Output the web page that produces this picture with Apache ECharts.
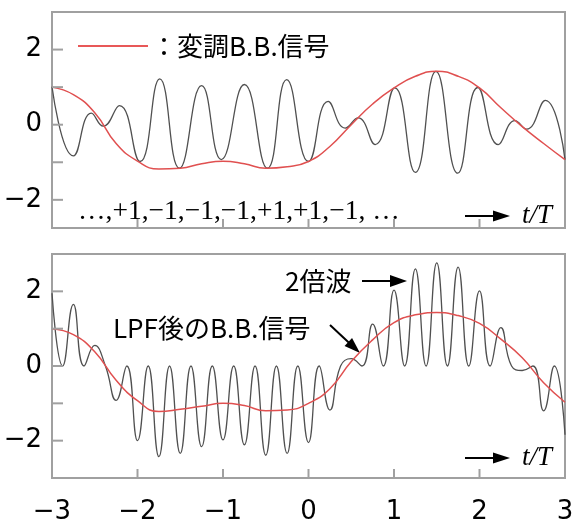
<!DOCTYPE html>
<html><head><meta charset="utf-8">
<script src="https://cdn.jsdelivr.net/npm/echarts@6/dist/echarts.min.js"></script>
<style>html,body{margin:0;padding:0;background:#fff}#c{width:576px;height:520px}</style>
</head><body><div id="c"></div>
<script>
// ---- data ----
// upper panel: modulated signal (extrema) and baseband signal
const tTopMod = [-3, -2.75, -2.54, -2.40, -2.21, -1.97, -1.74, -1.51, -1.25, -1.02, -0.75, -0.48, -0.255, 0.0, 0.23, 0.43, 0.58, 0.78, 1.01, 1.25, 1.49, 1.745, 1.98, 2.22, 2.415, 2.55, 2.77, 3.0];
const vTopMod = [1.01, -0.83, 0.31, -0.04, 0.51, -0.98, 1.22, -1.16, 1.04, -0.93, 1.07, -1.16, 1.2, -0.98, 0.62, -0.09, 0.18, -0.53, 0.98, -1.27, 1.42, -1.29, 0.99, -0.53, 0.11, -0.12, 0.65, -0.93];
const tBase = [-3, -2.75, -2.5, -2.25, -2, -1.75, -1.5, -1.25, -1, -0.75, -0.5, -0.25, 0, 0.25, 0.5, 0.75, 1, 1.25, 1.5, 1.75, 2, 2.25, 2.5, 2.75, 3];
const vTopBase = [1.0, 0.8, 0.32, -0.5, -0.97, -1.18, -1.16, -1.04, -0.97, -1.04, -1.16, -1.12, -0.98, -0.58, 0.0, 0.55, 0.98, 1.29, 1.42, 1.29, 0.98, 0.45, -0.05, -0.5, -0.93];
// lower panel: demodulated signal (with 2nd harmonic) and LPF output
const tBotDem = [-3, -2.875, -2.75, -2.625, -2.5, -2.375, -2.25, -2.125, -2, -1.875, -1.75, -1.625, -1.5, -1.375, -1.25, -1.125, -1, -0.875, -0.75, -0.625, -0.5, -0.375, -0.25, -0.125, 0, 0.125, 0.25, 0.375, 0.5, 0.625, 0.75, 0.875, 1, 1.125, 1.25, 1.375, 1.5, 1.625, 1.75, 1.875, 2, 2.125, 2.25, 2.375, 2.5, 2.625, 2.75, 2.875, 3];
const vBotDem = [1.95, 0, 1.65, 0, 0.55, 0, -0.92, 0, -2.0, 0, -2.43, 0, -2.34, 0, -2.16, 0, -1.98, 0, -2.11, 0, -2.39, 0, -2.34, 0, -2.05, 0, -1.18, 0, 0.2, 0, 1.12, 0, 2.03, 0, 2.6, 0, 2.76, 0, 2.65, 0, 2.01, 0, 1.03, 0, -0.12, 0, -1.2, 0, -1.84];
const vBotLpf = [1.0, 0.84, 0.38, -0.38, -0.93, -1.22, -1.16, -1.08, -1.0, -1.06, -1.2, -1.18, -1.0, -0.61, 0.12, 0.7, 1.16, 1.37, 1.43, 1.35, 1.14, 0.72, 0.22, -0.45, -0.97];
// ticks / labels
const xTicks = [-2, -1, 0, 1, 2];
const yTicks = [-2, -1, 0, 1, 2];
const yLabels = [-2, 0, 2];
const symbols = '…,+1,−1,−1,−1,+1,+1,−1, …';

const chart = echarts.init(document.getElementById('c'));
const pairs = (ts, vs) => ts.map((t, i) => [t, vs[i]]);
const minus = v => (v < 0 ? '\u2212' + Math.abs(v) : String(v));
const frameC = '#a0a0a0';
const lblFont = { fontSize: 26, fontFamily: 'Liberation Sans Narrow, DejaVu Sans', color: '#000' };
const grayLine = { color: '#505050', width: 1.3 };
const redLine = { color: '#e05050', width: 1.5 };
const Y = [[-2.75, 3], [-3, 3]];

function xAx(i, labels) {
  return { type: 'value', gridIndex: i, min: -3, max: 3, interval: 1,
    axisLine: { show: false, onZero: false }, splitLine: { show: false }, axisTick: { show: false },
    axisLabel: labels ? Object.assign({ margin: 21, formatter: minus }, lblFont) : { show: false } };
}
function yAx(i) {
  return { type: 'value', gridIndex: i, min: Y[i][0], max: Y[i][1],
    axisLine: { show: false, onZero: false }, splitLine: { show: false }, axisTick: { show: false },
    axisLabel: Object.assign({ margin: 10, formatter: minus, customValues: yLabels }, lblFont) };
}
function arrow(x1, y1, x2, y2, head, half) {
  const dx = x2 - x1, dy = y2 - y1, L = Math.hypot(dx, dy);
  const ux = dx / L, uy = dy / L, nx = -uy, ny = ux;
  const bx = x2 - ux * head, by = y2 - uy * head;
  return [
    { type: 'line', shape: { x1: x1, y1: y1, x2: bx + ux * 2, y2: by + uy * 2 }, style: { stroke: '#000', lineWidth: 2 } },
    { type: 'polygon', shape: { points: [[x2, y2], [bx + nx * half, by + ny * half], [bx - nx * half, by - ny * half]] }, style: { fill: '#000' } }
  ];
}
function txt(x, y, s, font) {
  return { type: 'text', x: x, y: y, style: { text: s, font: font, fill: '#000', textAlign: 'left', textVerticalAlign: 'middle', align: 'left', verticalAlign: 'middle' } };
}
const jp = '26px "Noto Sans CJK JP"';
const lineSeries = (xi, ts, vs, style, z) => ({ type: 'line', xAxisIndex: xi, yAxisIndex: xi, data: pairs(ts, vs), smooth: 0.5, showSymbol: false, lineStyle: style, z: z });
const option = {
  animation: false,
  grid: [
    { left: 52, right: 11, top: 12, height: 216, show: true, borderColor: frameC, borderWidth: 2, outerBoundsMode: 'none', containLabel: false },
    { left: 52, right: 11, top: 254, height: 224, show: true, borderColor: frameC, borderWidth: 2, outerBoundsMode: 'none', containLabel: false }
  ],
  xAxis: [xAx(0, false), xAx(1, true)],
  yAxis: [yAx(0), yAx(1)],
  series: [
    lineSeries(0, tTopMod, vTopMod, grayLine, 2),
    lineSeries(0, tBase, vTopBase, redLine, 3),
    lineSeries(1, tBotDem, vBotDem, grayLine, 2),
    lineSeries(1, tBase, vBotLpf, redLine, 3)
  ]
};
chart.setOption(option);

// inward ticks placed through the chart's own scales
const ticks = [];
[0, 1].forEach(g => {
  yTicks.forEach(v => {
    const p = chart.convertToPixel({ gridIndex: g }, [-3, v]);
    ticks.push({ type: 'line', z: 10, shape: { x1: p[0], y1: p[1], x2: p[0] + 11, y2: p[1] }, style: { stroke: frameC, lineWidth: 2 } });
  });
  xTicks.forEach(v => {
    const p = chart.convertToPixel({ gridIndex: g }, [v, Y[g][0]]);
    ticks.push({ type: 'line', z: 10, shape: { x1: p[0], y1: p[1], x2: p[0], y2: p[1] - 9 }, style: { stroke: frameC, lineWidth: 2 } });
  });
});

chart.setOption({
  graphic: ticks.concat([
    { type: 'line', shape: { x1: 78, y1: 46, x2: 148, y2: 46 }, style: { stroke: '#e02020', lineWidth: 1.5 } },
    txt(151, 46, '：変調B.B.信号', jp),
    txt(78, 212, symbols, '27.5px "Liberation Serif"'),
    ...arrow(465, 216, 510, 216, 17, 5.5),
    txt(522, 216, 't/T', 'italic 27px "Liberation Serif"'),
    ...arrow(465, 458, 510, 458, 17, 5.5),
    txt(522, 458, 't/T', 'italic 27px "Liberation Serif"'),
    txt(285, 281, '2倍波', jp),
    ...arrow(362, 281, 407, 281, 17, 6),
    txt(113, 328, 'LPF後のB.B.信号', jp),
    ...arrow(330, 325, 360, 353, 16, 5.5)
  ])
});
</script></body></html>
